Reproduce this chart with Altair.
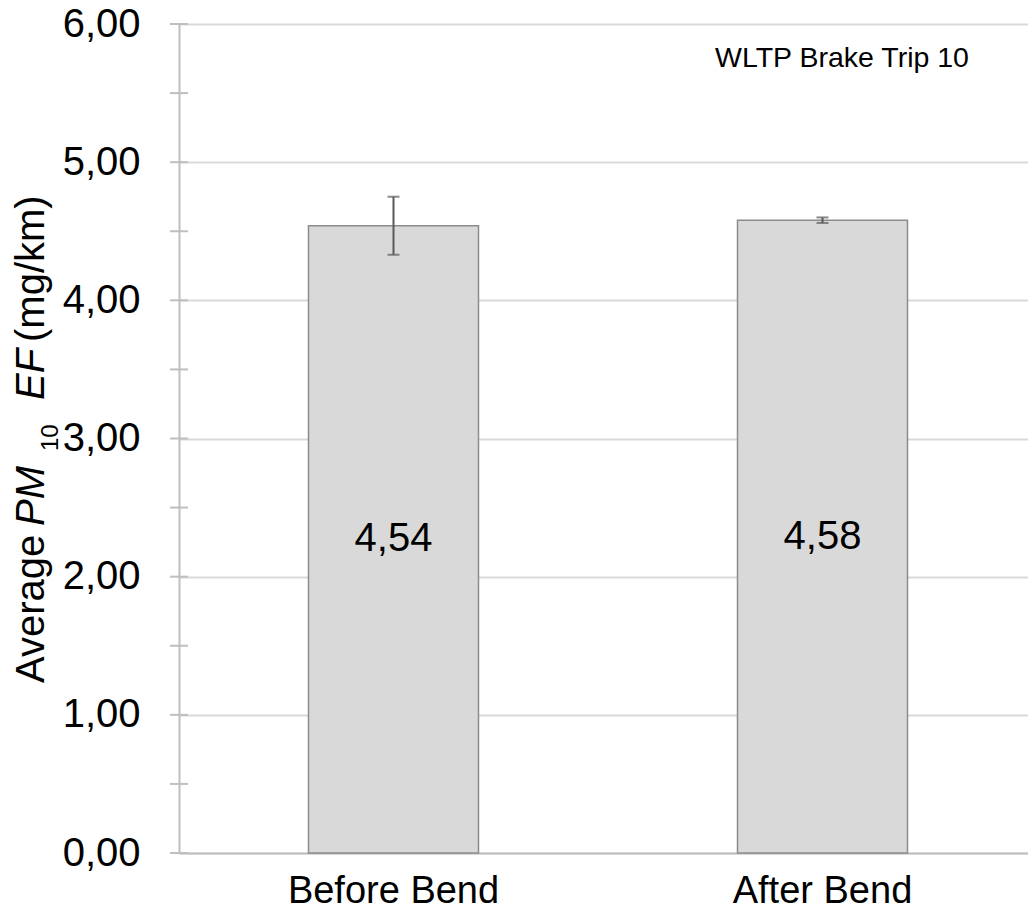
import altair as alt
import pandas as pd

categories = ["Before Bend", "After Bend"]
means = [4.54, 4.58]
errors = [0.21, 0.02]
y_ticks = [0, 1, 2, 3, 4, 5, 6]
minor_ticks = [0, 0.5, 1, 1.5, 2, 2.5, 3, 3.5, 4, 4.5, 5, 5.5, 6]
annotation = "WLTP Brake Trip 10"

FONT = "Liberation Sans"

df = pd.DataFrame({
    "cat": categories,
    "mean": means,
    "lo": [m - e for m, e in zip(means, errors)],
    "hi": [m + e for m, e in zip(means, errors)],
    "half": [m / 2 for m in means],
    "label": [f"{m:.2f}".replace(".", ",") for m in means],
})

xscale = alt.Scale(range=[0, 858], paddingInner=0, paddingOuter=0)
xenc = alt.X("cat:N", sort=categories, title=None, scale=xscale,
             axis=alt.Axis(labelFont=FONT, labelFontSize=38, labelColor="#000000",
                           labelAngle=0, ticks=False, labelPadding=19, labelLimit=0,
                           domainColor="#bfbfbf", domainWidth=2, grid=False))
xplain = alt.X("cat:N", sort=categories, scale=xscale)

yscale = alt.Scale(domain=[0, 6], nice=False, zero=True)

bars = alt.Chart(df).mark_bar(size=170, color="#d9d9d9", stroke="#8c8c8c",
                              strokeWidth=1.5).encode(
    x=xenc,
    y=alt.Y("mean:Q", scale=yscale, title=None,
            axis=alt.Axis(values=y_ticks, labelExpr="replace(format(datum.value, '.2f'), '.', ',')",
                          labelFont=FONT, labelFontSize=40, labelColor="#000000",
                          ticks=False, labelPadding=39, domainColor="#bfbfbf",
                          domainWidth=2, gridColor="#d9d9d9", gridWidth=2)),
)

err = alt.Chart(df).mark_rule(color="#595959", strokeWidth=2).encode(
    x=xplain,
    y=alt.Y("lo:Q", scale=yscale),
    y2="hi:Q",
)
cap_lo = alt.Chart(df).mark_tick(color="#595959", thickness=2, size=12, orient="horizontal").encode(
    x=xplain,
    y=alt.Y("lo:Q", scale=yscale),
)
cap_hi = alt.Chart(df).mark_tick(color="#595959", thickness=2, size=12, orient="horizontal").encode(
    x=xplain,
    y=alt.Y("hi:Q", scale=yscale),
)

labels = alt.Chart(df).mark_text(font=FONT, fontSize=40, color="#000000",
                                 baseline="middle", align="center").encode(
    x=xplain,
    y=alt.Y("half:Q", scale=yscale),
    text="label:N",
)

ticks_df = pd.DataFrame({"v": minor_ticks})
tick_rules = alt.Chart(ticks_df).mark_rule(color="#bfbfbf", strokeWidth=2).encode(
    y=alt.Y("v:Q", scale=yscale),
    x=alt.value(-9),
    x2=alt.value(9),
)

ann = alt.Chart(pd.DataFrame({"t": [annotation]})).mark_text(
    font=FONT, fontSize=28.5, color="#000000", align="left", baseline="alphabetic"
).encode(x=alt.value(536), y=alt.value(43), text="t:N")

# y-axis title pieces (rotated), mixed styles
pieces = [
    ("Average", -135, 659, 40, "normal"),
    ("PM", -135, 502, 40, "italic"),
    ("10", -121, 427, 24, "normal"),
    ("EF", -135, 376, 40, "italic"),
    ("(mg/km)", -135, 318, 40, "normal"),
]
title_layers = []
for txt, px, py, fs, st in pieces:
    title_layers.append(
        alt.Chart(pd.DataFrame({"t": [txt]})).mark_text(
            font=FONT, fontSize=fs, fontStyle=st, color="#000000", angle=270,
            align="left", baseline="alphabetic"
        ).encode(x=alt.value(px), y=alt.value(py), text="t:N")
    )

chart = alt.layer(bars, err, cap_lo, cap_hi, labels, tick_rules, ann, *title_layers).properties(
    width=849, height=829,
    autosize=alt.AutoSizeParams(type="none"),
    padding={"left": 171, "top": 16, "right": 0, "bottom": 61},
).configure_view(stroke=None).configure(background="white")

chart.save("out.html", embed_options={"renderer": "svg", "actions": False})
